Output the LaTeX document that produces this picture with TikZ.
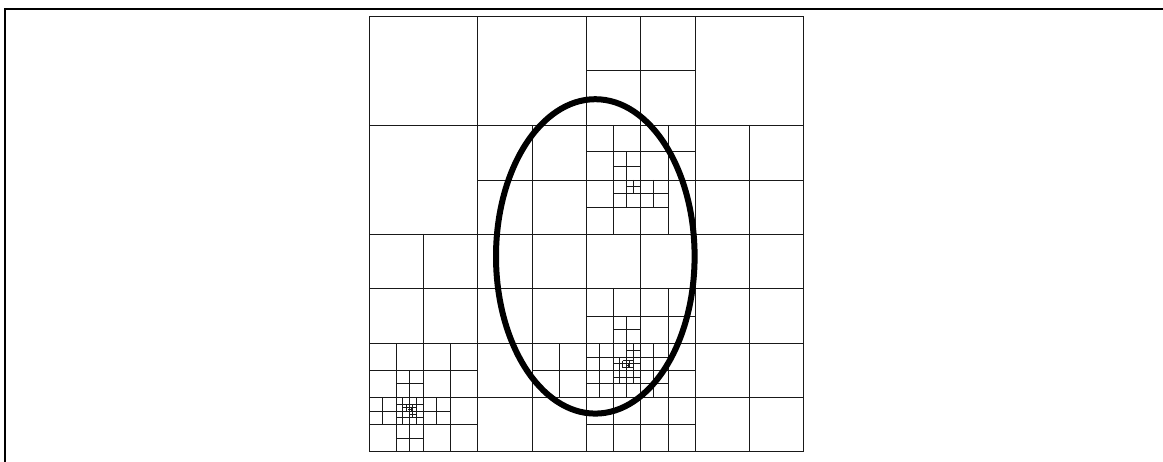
\documentclass[tikz,border=0pt]{standalone}
\tikzset{
  gridline/.style={draw=black!90,line width=1pt,line cap=butt},
  frameline/.style={draw=black,line width=2pt},
  curve/.style={draw=black,line width=6pt}
}
\begin{document}
\begin{tikzpicture}[x=1pt,y=-1pt]
\useasboundingbox (0,0) rectangle (1163,462);
\fill[white] (0,0) rectangle (1163,462);
% frame
\draw[frameline] (4.5,462) -- (4.5,8.7) -- (1163,8.7);
% outer square
\draw[gridline] (369,17) rectangle (803,452);
% vertical lines x / y-from / y-to
\foreach \x/\a/\b in {
  477/17/452, 586/17/452, 640/17/452, 695/17/452,
  423/234/452, 532/125/452, 749/125/452,
  % upper block
  613/125/234, 668/125/234, 626/152/208, 653/180/208, 633/180/194,
  % lower block
  613/288/452, 668/288/452, 626/316.7/397.7, 599.3/343.5/397.7, 653.3/343.5/397.7,
  559/343.5/397.7, 619.5/357.3/384, 633/343.5/384,
  622.8/361/368, 629.5/361/368, 628.2/364/368,
  % south-west block
  396/343.5/452, 450/343.5/452, 409.5/370.7/452,
  382.7/397.7/425, 436.7/397.7/425, 402.7/397.7/425, 416.3/397.7/425,
  406/404.3/411, 412.8/404.3/418, 411/407.7/411.2
}{
  \draw[gridline] (\x,\a) -- (\x,\b);
}
% horizontal lines y / x-from / x-to
\foreach \y/\a/\b in {
  125.3/369/803, 234.3/369/803, 288.7/369/803, 343.5/477/803, 397.7/369/803,
  71/586/695, 180.3/477/586, 180.3/586/803,
  % upper block
  152/586/695, 208/586/668, 167/613/640, 194/613/668, 187/626/640,
  % lower block
  316.7/586/695, 330/613/640, 357.3/586/668, 370.7/532/695, 384/586/668, 425/586/695,
  350.7/626/640, 364/613/640, 377.5/613/640, 367.5/622.8/633, 361/622.8/633, 365.8/626/630,
  % south-west block
  343.5/369/477, 370.7/369/477, 384/396/423, 411.2/369/450, 425/369/477, 438.3/396/423,
  404.3/396/423, 418/396/423, 407.7/402.7/416.3, 414.5/409.5/416.3, 409.4/408/412.8
}{
  \draw[gridline] (\a,\y) -- (\b,\y);
}
% ellipse
\draw[curve] (595.3,256.4) ellipse [x radius=99.3, y radius=157.2];
\end{tikzpicture}
\end{document}
